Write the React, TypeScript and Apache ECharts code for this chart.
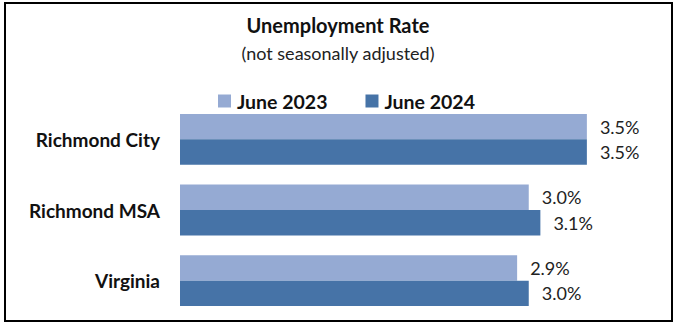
import React, { useEffect, useRef } from "react";
import * as echarts from "echarts";

const categories = ["Richmond City", "Richmond MSA", "Virginia"];
const june2023 = [3.5, 3.0, 2.9];
const june2024 = [3.5, 3.1, 3.0];
const seriesNames = ["June 2023", "June 2024"];
const titleText = "Unemployment Rate";
const subtitleText = "(not seasonally adjusted)";

const FONT = "Lato, 'Open Sans', sans-serif";

export default function App() {
  const ref = useRef<HTMLDivElement>(null);
  useEffect(() => {
    if (!ref.current) return;
    const chart = echarts.init(ref.current, undefined, { renderer: "svg" });
    const labelOpt = {
      show: true,
      position: "right",
      distance: 13,
      formatter: (p: any) => p.value.toFixed(1) + "%",
      fontFamily: FONT,
      fontSize: 18,
      color: "#222",
    };
    chart.setOption({
      animation: false,
      backgroundColor: "#ffffff",
      title: {
        text: titleText,
        subtext: subtitleText,
        left: "center",
        top: 10,
        itemGap: 9,
        textStyle: { fontFamily: FONT, fontSize: 20, fontWeight: "bold", color: "#111" },
        subtextStyle: { fontFamily: FONT, fontSize: 18, color: "#222" },
      },
      legend: {
        data: seriesNames,
        top: 86,
        left: 213,
        itemWidth: 13,
        itemHeight: 13,
        itemGap: 38,
        icon: "rect",
        textStyle: {
          fontFamily: FONT,
          fontSize: 19.5,
          fontWeight: "bold",
          color: "#111",
          padding: [0, 0, 0, 1],
        },
      },
      grid: { left: 180, top: 104, width: 465, height: 212, containLabel: false },
      xAxis: {
        type: "value",
        min: 0,
        max: 4,
        show: false,
      },
      yAxis: {
        type: "category",
        data: categories,
        inverse: true,
        axisLine: { show: false },
        axisTick: { show: false },
        axisLabel: {
          fontFamily: FONT,
          fontSize: 19,
          fontWeight: "bold",
          color: "#111",
          margin: 20,
        },
      },
      series: [
        {
          name: seriesNames[0],
          type: "bar",
          data: june2023,
          barGap: "0%",
          barCategoryGap: "28%",
          itemStyle: { color: "#95AAD3" },
          label: labelOpt,
        },
        {
          name: seriesNames[1],
          type: "bar",
          data: june2024,
          barGap: "0%",
          barCategoryGap: "28%",
          itemStyle: { color: "#4673A7" },
          label: labelOpt,
        },
      ],
      graphic: [
        {
          type: "rect",
          shape: { x: 5, y: 3, width: 667, height: 318 },
          style: { fill: "none", stroke: "#000", lineWidth: 2 },
          silent: true,
        },
      ],
    });
    return () => chart.dispose();
  }, []);
  return (
    <div
      ref={ref}
      style={{ position: "absolute", left: 0, top: 0, width: 676, height: 324 }}
    />
  );
}
